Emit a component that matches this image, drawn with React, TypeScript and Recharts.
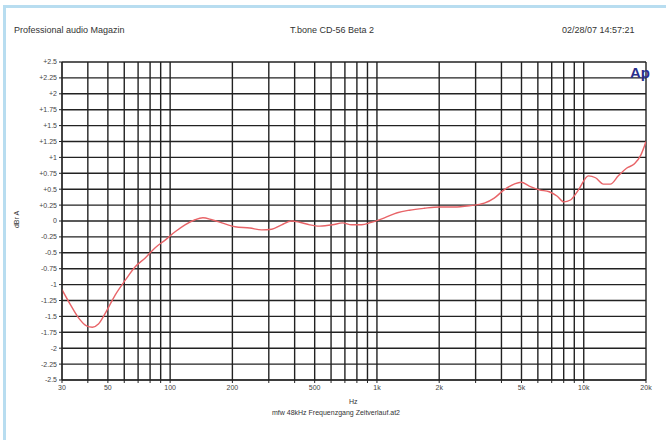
import React from 'react';
import { LineChart, Line, XAxis, YAxis, CartesianGrid } from 'recharts';

// frequency response
const freqHz = [
    30, 33, 36, 39.4, 42.1, 45, 48.6, 54.3, 60.7, 67.8, 75.8, 84.7, 94.6, 105.7, 118, 132, 144, 159, 178,
    206, 243, 277, 310, 346, 387, 423, 473, 528, 610, 682, 753, 842, 941, 1087, 1254, 1434, 1692, 2000,
    2364, 2795, 3304, 3690, 4120, 4608, 4985, 5450, 6095, 6810, 7450, 8000, 8625, 9430, 10540, 11400,
    12450, 13440, 14700, 16100, 17600, 18900, 20000,
];
const levelDbr = [
    -1.08, -1.32, -1.52, -1.65, -1.67, -1.62, -1.45, -1.16, -0.93, -0.72, -0.58, -0.42, -0.3, -0.17, -0.06,
    0.02, 0.05, 0.02, -0.03, -0.09, -0.11, -0.14, -0.13, -0.06, 0, -0.02, -0.06, -0.08, -0.06, -0.03, -0.06,
    -0.06, -0.02, 0.05, 0.13, 0.17, 0.2, 0.22, 0.22, 0.24, 0.28, 0.36, 0.49, 0.58, 0.61, 0.55, 0.49, 0.46,
    0.39, 0.3, 0.33, 0.49, 0.71, 0.68, 0.58, 0.58, 0.71, 0.83, 0.9, 1.04, 1.25,
];

const xGrid = [
    30, 40, 50, 60, 70, 80, 90, 100, 200, 300, 400, 500, 600, 700, 800, 900,
    1000, 2000, 3000, 4000, 5000, 6000, 7000, 8000, 9000, 10000, 20000,
];
const xLabels: Record<number, string> = {
    30: '30', 50: '50', 100: '100', 200: '200', 500: '500',
    1000: '1k', 2000: '2k', 5000: '5k', 10000: '10k', 20000: '20k',
};
const yGrid = [
    -2.5, -2.25, -2, -1.75, -1.5, -1.25, -1, -0.75, -0.5, -0.25, 0,
    0.25, 0.5, 0.75, 1, 1.25, 1.5, 1.75, 2, 2.25, 2.5,
];

const data = freqHz.map((f, i) => ({ f, db: levelDbr[i] }));

const fmtY = (v: number) => (v > 0 ? '+' + v : String(v));

const textStyle: React.CSSProperties = { position: 'absolute', fontSize: 9, color: '#333', whiteSpace: 'nowrap' };

export default function App() {
    return (
        <div
            style={{
                position: 'absolute',
                left: 0,
                top: 0,
                width: 666,
                height: 440,
                background: '#fff',
                overflow: 'hidden',
                fontFamily: '"Liberation Sans", Arial, sans-serif',
            }}
        >
            <div
                style={{
                    position: 'absolute',
                    left: 3,
                    top: 5,
                    width: 700,
                    height: 500,
                    borderLeft: '3px solid #b8ddf0',
                    borderTop: '3px solid #b8ddf0',
                }}
            />
            <div style={{ ...textStyle, left: 14, top: 25 }}>Professional audio Magazin</div>
            <div style={{ ...textStyle, left: 290, top: 25 }}>T.bone CD-56 Beta 2</div>
            <div style={{ ...textStyle, left: 562, top: 25 }}>02/28/07 14:57:21</div>
            <div
                style={{
                    ...textStyle,
                    left: 630,
                    top: 64,
                    fontSize: 15,
                    fontWeight: 'bold',
                    color: '#2a2f8c',
                    zIndex: 2,
                }}
            >
                Ap
            </div>
            <div
                style={{
                    ...textStyle,
                    left: 8,
                    top: 216,
                    fontSize: 7,
                    transform: 'rotate(-90deg)',
                }}
            >
                dBr A
            </div>
            <div style={{ ...textStyle, left: 349, top: 398, fontSize: 7 }}>Hz</div>
            <div style={{ ...textStyle, left: 272, top: 409, fontSize: 7 }}>mfw 48kHz Frequenzgang Zeitverlauf.at2</div>

            <LineChart
                width={666}
                height={440}
                data={data}
                margin={{ top: 62, right: 20, bottom: 30, left: 22 }}
                style={{ position: 'absolute', left: 0, top: 0 }}
            >
                <CartesianGrid stroke="#222" strokeWidth={1.4} />
                <XAxis
                    dataKey="f"
                    type="number"
                    scale="log"
                    domain={[30, 20000]}
                    ticks={xGrid}
                    interval={0}
                    allowDataOverflow
                    height={30}
                    tickSize={3}
                    tickFormatter={(v: number) => xLabels[v] ?? ''}
                    tick={{ fontSize: 7, fill: '#444' }}
                    stroke="#222"
                />
                <YAxis
                    type="number"
                    domain={[-2.5, 2.5]}
                    ticks={yGrid}
                    interval={0}
                    width={40}
                    tickSize={3}
                    tickFormatter={fmtY}
                    tick={{ fontSize: 7, fill: '#444' }}
                    stroke="#222"
                />
                <Line
                    dataKey="db"
                    type="monotone"
                    stroke="#e86468"
                    strokeWidth={1.4}
                    dot={false}
                    isAnimationActive={false}
                />
            </LineChart>
        </div>
    );
}
